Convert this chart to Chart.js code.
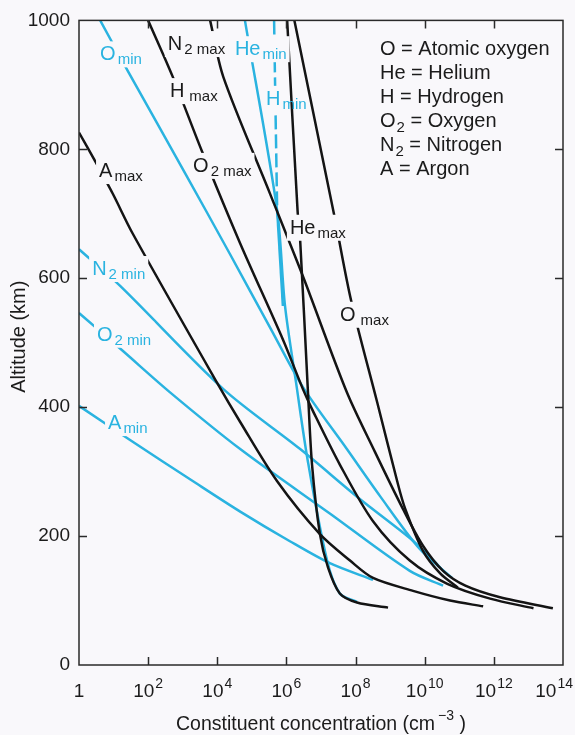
<!DOCTYPE html>
<html><head><meta charset="utf-8">
<script src="https://cdn.jsdelivr.net/npm/chart.js@4.4.1/dist/chart.umd.min.js"></script>
<style>html,body{margin:0;padding:0;background:#f9f8fb;}canvas{display:block;}</style>
</head><body>
<canvas id="c" width="575" height="735"></canvas>
<script>
// ---------- axis ticks ----------
const xTickExps = [0, 2, 4, 6, 8, 10, 12, 14];
const yTicks = [0, 200, 400, 600, 800, 1000];

// ---------- solar maximum (black) ----------
const altO2max = [1000, 912, 797, 654, 505, 428, 397, 311, 223, 162, 126, 103, 88];
const nO2max   = [1.0e2, 5.2e2, 3.6e3, 4.6e4, 7.9e5, 3.0e6, 5.5e6, 3.5e7, 3.2e8, 3.7e9, 4.5e10, 7.8e11, 1.4e13];
const altN2max = [1000, 912, 732, 603, 423, 331, 243, 185, 146, 123, 105, 88];
const nN2max   = [6.2e3, 1.5e4, 3.3e5, 3.0e6, 5.6e7, 3.6e8, 2.3e9, 8.9e9, 3.4e10, 1.5e11, 1.5e12, 5.1e13];
const altOmax  = [1000, 689, 566, 408, 285, 243, 177, 142, 120];
const nOmax    = [1.7e6, 2.6e7, 7.4e7, 4.2e8, 1.6e9, 2.7e9, 8.9e9, 2.8e10, 9.1e10];
const altHemax = [1000, 705, 658, 423, 311, 203, 151, 111, 97, 89];
const nHemax   = [1.05e6, 2.1e6, 2.5e6, 4.2e6, 5.5e6, 9.3e6, 1.6e7, 3.5e7, 1.1e8, 8.7e8];
const altAmax  = [826, 782, 731, 669, 438, 377, 285, 203, 162, 135, 115, 100, 91];
const nAmax    = [1, 2.9, 9.5, 36, 9.8e3, 4.6e4, 5.4e5, 9.3e6, 6.9e7, 3.2e8, 4.6e9, 5.4e10, 4.9e11];

// ---------- solar minimum (cyan) ----------
const altOmin  = [1000, 923, 762, 638, 523, 431, 335, 262, 180, 135];
const nOmin    = [4.1, 25, 1.2e3, 2.3e4, 3.4e5, 3.0e6, 5.6e7, 5.1e8, 7.2e9, 6.2e10];
const altN2min = [645, 588, 428, 335, 258, 197, 168, 143];
const nN2min   = [1, 15.5, 1.5e4, 2.5e6, 1.3e8, 3.7e9, 1.4e10, 3.9e10];
const altO2min = [546, 489, 423, 335, 235, 146, 123];
const nO2min   = [1, 17, 430, 4.6e4, 1.8e7, 3.7e9, 3.4e10];
const altAmin  = [402, 349, 285, 238, 192, 158, 132];
const nAmin    = [1, 30, 2.0e3, 4.6e4, 1.26e6, 1.8e7, 3.2e8];
const altHemin = [1000, 705, 557, 438, 315, 162, 111, 98];
const nHemin   = [6.3e4, 5.4e5, 9.1e5, 1.9e6, 4.2e6, 1.5e7, 3.5e7, 1.1e8];
const altHmin  = [1000, 900, 705, 557];
const nHmin    = [4.4e5, 4.7e5, 5.4e5, 7.9e5];

// ---------- curve labels (main text, subscript, log10 x, altitude) ----------
const labMain = ['O', 'N', 'He', 'H', 'H', 'O', 'A', 'He', 'O', 'N', 'O', 'A'];
const labSub  = ['min', '2 max', 'min', 'max', 'min', '2 max', 'max', 'max', 'max', '2 min', '2 min', 'min'];
const labLogX = [0.61, 2.57, 4.51, 2.63, 5.41, 3.30, 0.58, 6.10, 7.55, 0.38, 0.52, 0.84];
const labAlt  = [938, 954, 946, 881, 869, 765, 757, 669, 534, 605, 503, 366];
const labMin  = [true, false, true, false, true, false, false, false, false, true, true, true];

// ---------- key ----------
const keyMain = ['O', 'He', 'H', 'O', 'N', 'A'];
const keySub  = ['', '', '', '2', '2', ''];
const keyRest = [' = Atomic oxygen', ' = Helium', ' = Hydrogen', ' = Oxygen', ' = Nitrogen', ' = Argon'];

const CYAN = '#2ab3e0', BLACK = '#141414', INK = '#1b1b1b', BG = '#f9f8fb';
const FONT = '"Liberation Sans", Arial, Helvetica, sans-serif';

function pts(a, n) { return a.map((v, i) => ({ x: n[i], y: v })); }
function ds(name, a, n, color, extra) {
  return Object.assign({ label: name, data: pts(a, n), borderColor: color, borderWidth: 2.5,
    showLine: true, pointRadius: 0, fill: false, tension: 0.3 }, extra || {});
}

const datasets = [
  ds('O2 max', altO2max, nO2max, BLACK),
  ds('N2 max', altN2max, nN2max, BLACK),
  ds('O max', altOmax, nOmax, BLACK),
  ds('He max', altHemax, nHemax, BLACK),
  ds('A max', altAmax, nAmax, BLACK),
  ds('O min', altOmin, nOmin, CYAN),
  ds('N2 min', altN2min, nN2min, CYAN),
  ds('O2 min', altO2min, nO2min, CYAN),
  ds('A min', altAmin, nAmin, CYAN),
  ds('He min', altHemin, nHemin, CYAN),
  ds('H min', altHmin, nHmin, CYAN, { tension: 0,
     segment: { borderDash: c => (c.p0.parsed.y > 880 ? [14, 5] : undefined) } })
];

const deco = {
  id: 'deco',
  afterDatasetsDraw(chart) {
    const ctx = chart.ctx, xs = chart.scales.x, ys = chart.scales.y;
    const { left, right, top, bottom } = chart.chartArea;
    ctx.save();
    // curve labels with knock-out
    for (let i = 0; i < labMain.length; i++) {
      const px = xs.getPixelForValue(Math.pow(10, labLogX[i]));
      const py = ys.getPixelForValue(labAlt[i]);
      ctx.font = '20px ' + FONT;
      const w1 = ctx.measureText(labMain[i]).width;
      const gap = labSub[i] === 'max' && (labMain[i] === 'H' || labMain[i] === 'O') ? 5 : 2;
      ctx.font = '15px ' + FONT;
      const w2 = ctx.measureText(labSub[i]).width;
      ctx.fillStyle = BG;
      const kw = (labMain[i] === 'H' && labMin[i]) ? w1 + 4 : w1 + gap + w2 + 6;
      ctx.fillRect(px - 3, py - 19, kw, 26);
      const col = labMin[i] ? CYAN : INK;
      ctx.fillStyle = col;
      ctx.textBaseline = 'alphabetic';
      ctx.textAlign = 'left';
      ctx.font = '20px ' + FONT;
      ctx.fillText(labMain[i], px, py);
      ctx.font = '15px ' + FONT;
      ctx.fillText(labSub[i], px + w1 + gap, py + 4);
    }
    // frame
    ctx.strokeStyle = '#2a2a2a';
    ctx.lineWidth = 1.5;
    ctx.strokeRect(left, top, right - left, bottom - top);
    ctx.beginPath();
    xTickExps.forEach(e => {
      const px = Math.round(xs.getPixelForValue(Math.pow(10, e))) + 0.5;
      if (px < left + 2 || px > right - 2) return;
      ctx.moveTo(px, bottom); ctx.lineTo(px, bottom - 8);
      ctx.moveTo(px, top); ctx.lineTo(px, top + 8);
    });
    yTicks.forEach(v => {
      const py = Math.round(ys.getPixelForValue(v)) + 0.5;
      if (py < top + 2 || py > bottom - 2) return;
      ctx.moveTo(left, py); ctx.lineTo(left + 8, py);
      ctx.moveTo(right, py); ctx.lineTo(right - 8, py);
    });
    ctx.stroke();
    // x tick labels
    ctx.fillStyle = INK;
    xTickExps.forEach(e => {
      const px = xs.getPixelForValue(Math.pow(10, e));
      const base = bottom + 32;
      if (e === 0) {
        ctx.font = '19px ' + FONT; ctx.textAlign = 'center';
        ctx.fillText('1', px, base);
        return;
      }
      ctx.textAlign = 'left';
      ctx.font = '19px ' + FONT;
      const wm = ctx.measureText('10').width;
      ctx.font = '14px ' + FONT;
      const ws = ctx.measureText(String(e)).width;
      let x0 = px - (wm + 1 + ws) / 2;
      if (x0 + wm + 1 + ws > chart.width - 2) x0 = chart.width - 2 - (wm + 1 + ws);
      ctx.font = '19px ' + FONT;
      ctx.fillText('10', x0, base);
      ctx.font = '14px ' + FONT;
      ctx.fillText(String(e), x0 + wm + 1, base - 9);
    });
    // x title
    {
      ctx.textAlign = 'left';
      const t1 = 'Constituent concentration (cm', t2 = '\u22123', t3 = ' )';
      ctx.font = '19.5px ' + FONT; const a = ctx.measureText(t1).width;
      const c = ctx.measureText(t3).width;
      ctx.font = '14px ' + FONT; const b = ctx.measureText(t2).width;
      let x0 = (left + right) / 2 - (a + b + c + 3) / 2;
      const base = bottom + 65;
      ctx.font = '19.5px ' + FONT; ctx.fillText(t1, x0, base);
      ctx.font = '14px ' + FONT; ctx.fillText(t2, x0 + a + 3, base - 10);
      ctx.font = '19.5px ' + FONT; ctx.fillText(t3, x0 + a + 3 + b, base);
    }
    // y title
    ctx.save();
    ctx.translate(25, (top + bottom) / 2 - 6);
    ctx.rotate(-Math.PI / 2);
    ctx.textAlign = 'center';
    ctx.font = '20px ' + FONT;
    ctx.fillText('Altitude (km)', 0, 0);
    ctx.restore();
    // key
    ctx.textAlign = 'left';
    keyMain.forEach((m, i) => {
      const x0 = left + 301, base = top + 35 + i * 24;
      ctx.font = '20px ' + FONT;
      ctx.fillText(m, x0, base);
      let x = x0 + ctx.measureText(m).width;
      if (keySub[i]) {
        ctx.font = '15px ' + FONT;
        ctx.fillText(keySub[i], x + 1, base + 5);
        x += ctx.measureText(keySub[i]).width + 1;
      }
      ctx.font = '20px ' + FONT;
      ctx.fillText(keyRest[i], x, base);
    });
    ctx.restore();
  }
};

new Chart(document.getElementById('c'), {
  type: 'scatter',
  data: { datasets },
  options: {
    responsive: false, animation: false, devicePixelRatio: 1, events: [],
    layout: { padding: { top: 15, right: 12, left: 0, bottom: 0 } },
    plugins: { legend: { display: false }, tooltip: { enabled: false } },
    scales: {
      x: { type: 'logarithmic', min: 1, max: 1e14, position: 'bottom',
        afterBuildTicks: s => { s.ticks = xTickExps.map(e => ({ value: Math.pow(10, e) })); },
        afterFit: s => { s.height = 70; },
        ticks: { display: false }, grid: { display: false }, border: { display: false } },
      y: { type: 'linear', min: 0, max: 1000,
        afterBuildTicks: s => { s.ticks = yTicks.map(v => ({ value: v })); },
        afterFit: s => { s.width = 79; },
        ticks: { display: true, padding: 9, color: INK, font: { family: FONT, size: 19 }, callback: v => String(v) },
        grid: { display: false, drawTicks: false }, border: { display: false } }
    }
  },
  plugins: [deco]
});
</script>
</body></html>
